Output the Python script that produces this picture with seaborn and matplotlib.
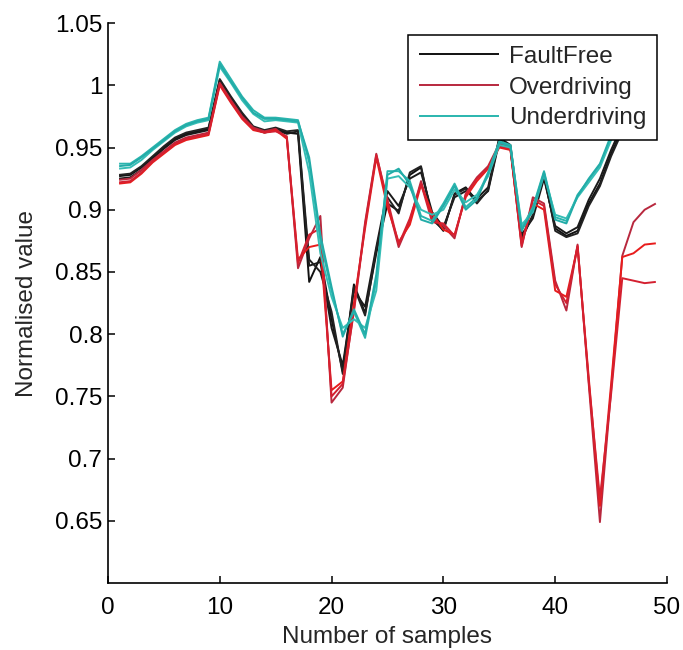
import numpy as np
import pandas as pd
import matplotlib
matplotlib.use("Agg")
import matplotlib.pyplot as plt
import seaborn as sns

samples = list(range(1, 50))

faultfree_a = [0.927, 0.928, 0.934, 0.942, 0.950, 0.957, 0.961, 0.963, 0.965, 1.004,
               0.990, 0.977, 0.966, 0.963, 0.965, 0.962, 0.961, 0.842, 0.862, 0.812,
               0.770, 0.840, 0.817, 0.865, 0.905, 0.899, 0.928, 0.934, 0.894, 0.883,
               0.913, 0.918, 0.907, 0.915, 0.955, 0.950, 0.878, 0.895, 0.927, 0.885,
               0.879, 0.883, 0.905, 0.921, 0.945, 0.965, 0.982, 0.996, 1.010]
faultfree_b = [0.925, 0.926, 0.932, 0.941, 0.949, 0.956, 0.960, 0.962, 0.964, 1.002,
               0.989, 0.976, 0.965, 0.962, 0.964, 0.961, 0.963, 0.855, 0.858, 0.805,
               0.775, 0.835, 0.822, 0.870, 0.915, 0.903, 0.925, 0.930, 0.898, 0.886,
               0.910, 0.915, 0.909, 0.918, 0.958, 0.952, 0.880, 0.893, 0.925, 0.887,
               0.881, 0.886, 0.908, 0.925, 0.948, 0.968, 0.985, 0.998, 1.012]
faultfree_c = [0.928, 0.929, 0.935, 0.943, 0.951, 0.958, 0.962, 0.964, 0.966, 1.005,
               0.991, 0.978, 0.967, 0.964, 0.966, 0.963, 0.964, 0.860, 0.850, 0.818,
               0.768, 0.838, 0.815, 0.868, 0.910, 0.897, 0.930, 0.935, 0.892, 0.884,
               0.912, 0.917, 0.905, 0.916, 0.957, 0.949, 0.876, 0.896, 0.929, 0.883,
               0.878, 0.881, 0.903, 0.919, 0.943, 0.963, 0.980, 0.994, 1.008]

over_a = [0.924, 0.925, 0.932, 0.940, 0.947, 0.954, 0.958, 0.960, 0.962, 1.002,
          0.988, 0.975, 0.966, 0.963, 0.965, 0.958, 0.853, 0.877, 0.895, 0.745,
          0.757, 0.820, 0.890, 0.945, 0.905, 0.870, 0.891, 0.923, 0.893, 0.887,
          0.877, 0.913, 0.926, 0.935, 0.953, 0.950, 0.870, 0.910, 0.905, 0.843,
          0.819, 0.872, 0.760, 0.649, 0.755, 0.863, 0.890, 0.900, 0.905]
over_b = [0.921, 0.922, 0.929, 0.938, 0.945, 0.952, 0.956, 0.958, 0.960, 1.000,
          0.986, 0.973, 0.964, 0.962, 0.964, 0.957, 0.860, 0.870, 0.872, 0.755,
          0.762, 0.825, 0.885, 0.942, 0.902, 0.874, 0.888, 0.920, 0.897, 0.884,
          0.880, 0.910, 0.923, 0.933, 0.950, 0.948, 0.873, 0.905, 0.900, 0.835,
          0.830, 0.870, 0.765, 0.662, 0.760, 0.862, 0.865, 0.872, 0.873]
over_c = [0.922, 0.923, 0.930, 0.939, 0.946, 0.953, 0.957, 0.959, 0.961, 1.001,
          0.987, 0.974, 0.965, 0.962, 0.963, 0.959, 0.857, 0.880, 0.885, 0.750,
          0.760, 0.818, 0.888, 0.944, 0.908, 0.872, 0.893, 0.921, 0.890, 0.889,
          0.879, 0.912, 0.925, 0.934, 0.951, 0.949, 0.871, 0.908, 0.903, 0.840,
          0.825, 0.871, 0.762, 0.668, 0.752, 0.845, 0.843, 0.841, 0.842]

under_a = [0.937, 0.937, 0.943, 0.950, 0.957, 0.964, 0.969, 0.972, 0.974, 1.019,
           1.005, 0.991, 0.980, 0.974, 0.974, 0.973, 0.972, 0.938, 0.875, 0.835,
           0.800, 0.818, 0.797, 0.843, 0.931, 0.931, 0.923, 0.895, 0.891, 0.905,
           0.921, 0.902, 0.910, 0.930, 0.955, 0.952, 0.885, 0.902, 0.931, 0.894,
           0.891, 0.912, 0.924, 0.936, 0.958, 0.980, 1.000, 1.015, 1.030]
under_b = [0.933, 0.934, 0.940, 0.948, 0.955, 0.962, 0.967, 0.970, 0.972, 1.015,
           1.002, 0.988, 0.977, 0.971, 0.972, 0.971, 0.970, 0.930, 0.865, 0.830,
           0.805, 0.812, 0.805, 0.835, 0.925, 0.927, 0.918, 0.900, 0.896, 0.900,
           0.916, 0.906, 0.912, 0.927, 0.952, 0.950, 0.888, 0.898, 0.928, 0.896,
           0.893, 0.910, 0.922, 0.934, 0.956, 0.978, 0.998, 1.013, 1.028]
under_c = [0.935, 0.936, 0.942, 0.949, 0.956, 0.963, 0.968, 0.971, 0.973, 1.017,
           1.003, 0.990, 0.978, 0.973, 0.973, 0.972, 0.971, 0.942, 0.880, 0.838,
           0.798, 0.820, 0.800, 0.848, 0.928, 0.933, 0.920, 0.892, 0.889, 0.903,
           0.919, 0.900, 0.908, 0.929, 0.954, 0.951, 0.883, 0.900, 0.930, 0.892,
           0.889, 0.911, 0.925, 0.937, 0.960, 0.982, 1.002, 1.017, 1.032]

x_ticks = [0, 10, 20, 30, 40, 50]
y_ticks = [0.65, 0.7, 0.75, 0.8, 0.85, 0.9, 0.95, 1.0, 1.05]
y_tick_labels = ["0.65", "0.7", "0.75", "0.8", "0.85", "0.9", "0.95", "1", "1.05"]

# (label, series, colour) for every drawn run
runs = [
    ("FaultFree", faultfree_a, "#111111"),
    (None, faultfree_b, "#1a1a1a"),
    (None, faultfree_c, "#222222"),
    ("Overdriving", over_a, "#b8283e"),
    (None, over_b, "#e81c1c"),
    (None, over_c, "#d42030"),
    ("Underdriving", under_a, "#2ab5ae"),
    (None, under_b, "#35bdb5"),
    (None, under_c, "#22aca8"),
]

sns.set_style("ticks")
plt.rcParams["font.family"] = ["Liberation Sans", "DejaVu Sans"]

FS = 17.5

fig = plt.figure(figsize=(6.83, 6.5), dpi=100)
ax = fig.add_axes([0.158, 0.103, 0.8186, 0.8615])

legend_handles = []
for label, series, colour in runs:
    df = pd.DataFrame({"sample": samples, "value": series})
    sns.lineplot(data=df, x="sample", y="value", color=colour, linewidth=1.4,
                 ax=ax, legend=False, estimator=None, solid_capstyle="butt")
    if label is not None:
        legend_handles.append((ax.lines[-1], label))

ax.set_xlim(0, 50)
ax.set_ylim(0.6, 1.05)
ax.set_xticks(x_ticks)
ax.set_yticks(y_ticks)
ax.set_yticklabels(y_tick_labels)
ax.tick_params(direction="in", length=5, width=1.1, labelsize=FS, colors="black")
ax.tick_params(axis="x", pad=10)
ax.tick_params(axis="y", pad=4)
for side in ("top", "right"):
    ax.spines[side].set_visible(False)
for side in ("left", "bottom"):
    ax.spines[side].set_linewidth(1.2)
    ax.spines[side].set_color("black")

ax.set_xlabel("Number of samples", fontsize=FS, labelpad=5)
ax.set_ylabel("Normalised value", fontsize=FS, labelpad=12)

leg = ax.legend([h for h, _ in legend_handles], [l for _, l in legend_handles],
                loc="upper right", bbox_to_anchor=(0.982, 0.979), borderaxespad=0,
                fontsize=FS, frameon=True, fancybox=False, framealpha=1,
                edgecolor="black", handlelength=3.3, handletextpad=0.4,
                labelspacing=0.36, borderpad=0.45)
leg.get_frame().set_linewidth(1.1)

fig.savefig("out.png", dpi=100, facecolor="white")
